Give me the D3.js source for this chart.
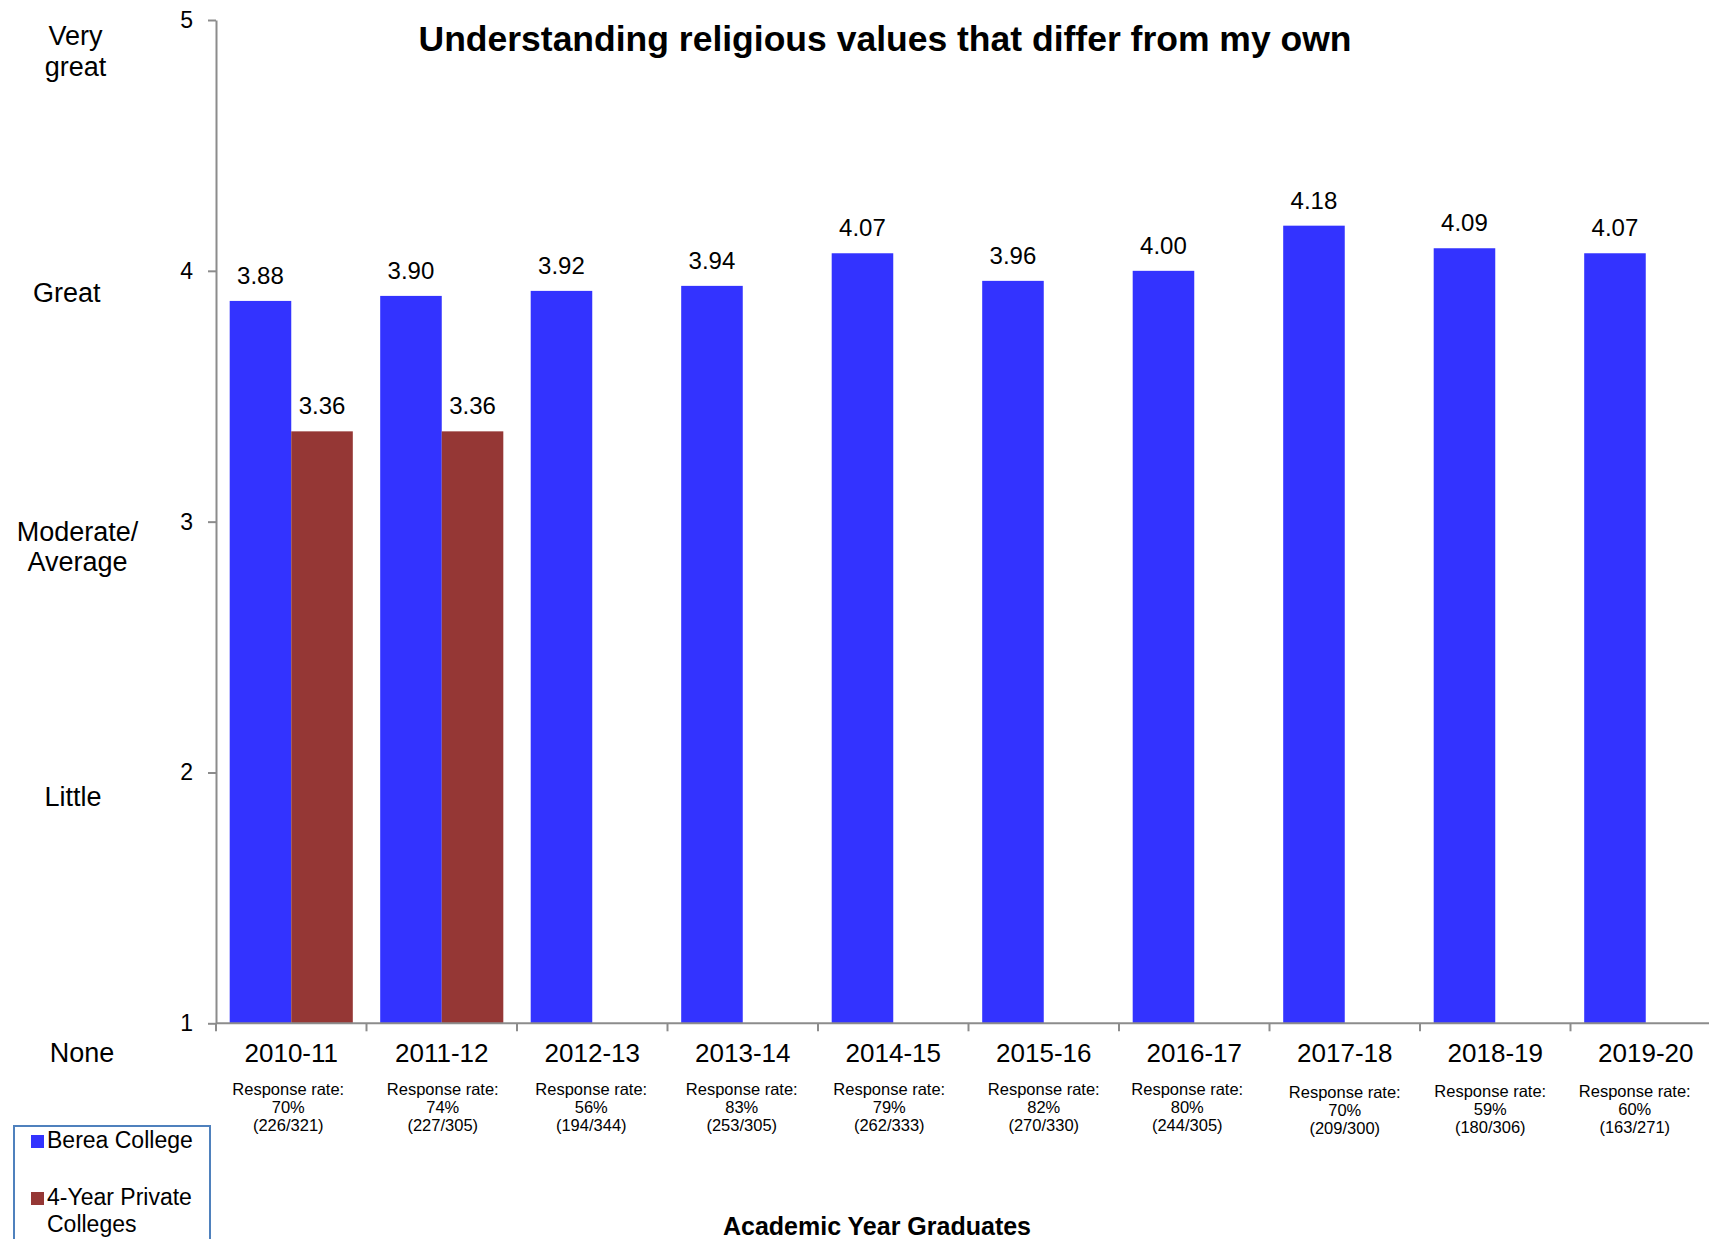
<!DOCTYPE html>
<html>
<head>
<meta charset="utf-8">
<script src="https://cdn.jsdelivr.net/npm/d3@7"></script>
<style>
  html, body { margin: 0; padding: 0; background: #fff; }
  svg { display: block; }
  text { font-family: "Liberation Sans", Arial, sans-serif; fill: #000; }
</style>
</head>
<body>
<svg id="chart" width="1709" height="1239"></svg>
<script>
// ---- Data ----
const title = "Understanding religious values that differ from my own";
const xAxisTitle = "Academic Year Graduates";
const categories = ["2010-11","2011-12","2012-13","2013-14","2014-15","2015-16","2016-17","2017-18","2018-19","2019-20"];
const seriesNames = ["Berea College","4-Year Private Colleges"];
const bereaValues = [3.88,3.90,3.92,3.94,4.07,3.96,4.00,4.18,4.09,4.07];
const privateValues = [3.36,3.36,null,null,null,null,null,null,null,null];
const responseRates = ["70%","74%","56%","83%","79%","82%","80%","70%","59%","60%"];
const responseCounts = ["(226/321)","(227/305)","(194/344)","(253/305)","(262/333)","(270/330)","(244/305)","(209/300)","(180/306)","(163/271)"];
const yTickValues = [1,2,3,4,5];
const scaleValues = [5,4,3,2,1];
const scaleLabels = [["Very","great"],["Great"],["Moderate/","Average"],["Little"],["None"]];

// ---- Layout / style ----
const W = 1709, H = 1239;
const colors = ["#3333FF", "#953735"];
const axisColor = "#8c8c8c";
const plotLeft = 216, plotRight = 1721, plotTop = 20, plotBottom = 1023.3;
// label placement (centre x, offset from tick) for the left-hand scale words
const scaleLabelLayout = [
  {dx: 75.5, dy: 25}, {dx: 66.7, dy: 31}, {dx: 77.5, dy: 19}, {dx: 73, dy: 33.5}, {dx: 82, dy: 38.7}
];
// small per-category nudges of the response-rate text boxes
const responseNudgeX = [-3, 1, -1, -1, -4, 0, -7, 0, -5, -11];
const responseNudgeY = [0, 0, 0, 0, 0, 0, 0, 3, 2, 2];

const svg = d3.select("#chart");

const y = d3.scaleLinear().domain([1, 5]).range([plotBottom, plotTop]);
const x0 = d3.scaleBand().domain(categories).range([plotLeft, plotRight])
  .paddingInner(0.182).paddingOuter(0.091);
const x1 = d3.scaleBand().domain(seriesNames).range([0, x0.bandwidth()]);

const rows = categories.map((c, i) => ({
  cat: c,
  values: [
    {series: seriesNames[0], v: bereaValues[i], ci: 0},
    {series: seriesNames[1], v: privateValues[i], ci: 1}
  ].filter(d => d.v !== null)
}));

// Bars
const groups = svg.append("g").selectAll("g").data(rows).join("g")
  .attr("transform", d => `translate(${x0(d.cat)},0)`);
groups.selectAll("rect").data(d => d.values).join("rect")
  .attr("x", d => x1(d.series))
  .attr("y", d => y(d.v))
  .attr("width", x1.bandwidth())
  .attr("height", d => y(1) - y(d.v))
  .attr("fill", d => colors[d.ci]);
groups.selectAll("text.val").data(d => d.values).join("text")
  .attr("class", "val")
  .attr("x", d => x1(d.series) + x1.bandwidth() / 2)
  .attr("y", d => y(d.v) - 17)
  .attr("text-anchor", "middle")
  .style("font-size", "24px")
  .text(d => d.v.toFixed(2));

// Y axis
const yAxis = svg.append("g").attr("transform", `translate(${plotLeft},0)`)
  .call(d3.axisLeft(y).tickValues(yTickValues).tickFormat(d3.format("d"))
    .tickSize(8).tickSizeOuter(0).tickPadding(15));
yAxis.select(".domain").attr("stroke", axisColor).attr("stroke-width", 2);
yAxis.selectAll(".tick line").attr("stroke", axisColor).attr("stroke-width", 2);
yAxis.selectAll(".tick text").style("font-size", "23px")
  .style("font-family", "'Liberation Sans', Arial, sans-serif").attr("fill", "#000");

// X axis line and boundary ticks
const step = x0.step();
const halfGap = (step - x0.bandwidth()) / 2;
const boundaries = categories.map(c => x0(c) - halfGap).concat([x0(categories[categories.length - 1]) + x0.bandwidth() + halfGap]);
svg.append("line").attr("x1", plotLeft).attr("x2", W).attr("y1", y(1)).attr("y2", y(1))
  .attr("stroke", axisColor).attr("stroke-width", 2);
svg.append("g").selectAll("line").data(boundaries).join("line")
  .attr("x1", d => d).attr("x2", d => d).attr("y1", y(1)).attr("y2", y(1) + 8)
  .attr("stroke", axisColor).attr("stroke-width", 2);

// Category labels and response rates
const catG = svg.append("g").selectAll("g").data(categories).join("g")
  .attr("transform", d => `translate(${x0(d) + x0.bandwidth() / 2},0)`);
catG.append("text").attr("y", 1062).attr("text-anchor", "middle")
  .style("font-size", "26px").text(d => d);
const resp = catG.append("g")
  .attr("transform", (d, i) => `translate(${responseNudgeX[i]},${responseNudgeY[i]})`);
resp.append("text").attr("y", 1095).attr("text-anchor", "middle")
  .style("font-size", "16.5px").text("Response rate:");
resp.append("text").attr("y", 1113).attr("text-anchor", "middle")
  .style("font-size", "16.5px").text((d, i) => responseRates[i]);
resp.append("text").attr("y", 1131).attr("text-anchor", "middle")
  .style("font-size", "16.5px").text((d, i) => responseCounts[i]);

// Left-hand scale words
scaleValues.forEach((v, i) => {
  const t = svg.append("text").attr("text-anchor", "middle").style("font-size", "27px");
  scaleLabels[i].forEach((line, j) => {
    t.append("tspan").attr("x", scaleLabelLayout[i].dx)
      .attr("y", y(v) + scaleLabelLayout[i].dy + j * 30.5).text(line);
  });
});

// Title
svg.append("text").attr("x", 885).attr("y", 51).attr("text-anchor", "middle")
  .style("font-size", "35.5px").style("font-weight", "bold").text(title);

// X axis title
svg.append("text").attr("x", 877).attr("y", 1235).attr("text-anchor", "middle")
  .style("font-size", "25px").style("font-weight", "bold").text(xAxisTitle);

// Legend
const leg = svg.append("g");
leg.append("rect").attr("x", 14).attr("y", 1126).attr("width", 196).attr("height", 130)
  .attr("fill", "#fff").attr("stroke", "#4f81bd").attr("stroke-width", 2);
const legendLayout = [{y: 1148, lines: ["Berea College"]}, {y: 1205, lines: ["4-Year Private", "Colleges"]}];
seriesNames.forEach((s, i) => {
  leg.append("rect").attr("x", 31).attr("y", legendLayout[i].y - 13).attr("width", 13).attr("height", 13)
    .attr("fill", colors[i]);
  const t = leg.append("text").style("font-size", "23px");
  legendLayout[i].lines.forEach((line, j) => {
    t.append("tspan").attr("x", 47).attr("y", legendLayout[i].y + j * 26.5).text(line);
  });
});
</script>
</body>
</html>
